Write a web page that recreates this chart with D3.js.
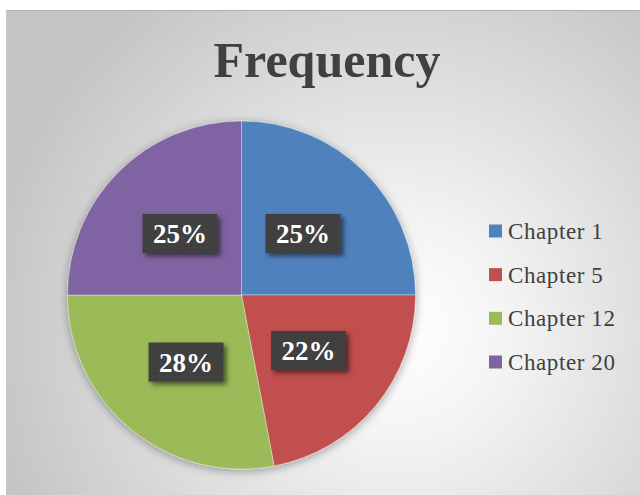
<!DOCTYPE html>
<html>
<head>
<meta charset="utf-8">
<script src="https://cdn.jsdelivr.net/npm/d3@7"></script>
<style>
  html, body { margin: 0; padding: 0; background: #ffffff; }
  svg { display: block; }
</style>
</head>
<body>
<svg id="chart" width="640" height="495"></svg>
<script>
const categories = ["Chapter 1", "Chapter 5", "Chapter 12", "Chapter 20"];
const values = [25, 22, 28, 25];
const colors = ["#4F81BD", "#C0504D", "#9BBB59", "#8064A2"];
const title = "Frequency";

const svg = d3.select("#chart");
const defs = svg.append("defs");

const bg = defs.append("radialGradient").attr("id", "bg")
  .attr("gradientUnits", "userSpaceOnUse")
  .attr("cx", 400).attr("cy", 330).attr("r", 420);
bg.append("stop").attr("offset", "0").attr("stop-color", "#ffffff");
bg.append("stop").attr("offset", "0.25").attr("stop-color", "#f4f4f4");
bg.append("stop").attr("offset", "1").attr("stop-color", "#c4c4c4");

const pieShadow = defs.append("filter").attr("id", "pieShadow")
  .attr("x", "-20%").attr("y", "-20%").attr("width", "140%").attr("height", "140%");
pieShadow.append("feDropShadow").attr("dx", 0).attr("dy", 2).attr("stdDeviation", 5)
  .attr("flood-color", "#000").attr("flood-opacity", 0.35);

const boxShadow = defs.append("filter").attr("id", "boxShadow")
  .attr("x", "-30%").attr("y", "-30%").attr("width", "170%").attr("height", "180%");
boxShadow.append("feDropShadow").attr("dx", 3).attr("dy", 3).attr("stdDeviation", 2.5)
  .attr("flood-color", "#000").attr("flood-opacity", 0.55);

const pat = defs.append("pattern").attr("id", "dots")
  .attr("patternUnits", "userSpaceOnUse").attr("width", 6).attr("height", 6);
pat.append("rect").attr("width", 6).attr("height", 6).attr("fill", "#404040");
pat.append("rect").attr("x", 2).attr("y", 2).attr("width", 1).attr("height", 1).attr("fill", "#4d4d4d");

// chart area
svg.append("rect").attr("x", 6).attr("y", 10).attr("width", 640).attr("height", 490)
  .attr("fill", "url(#bg)");
svg.append("line").attr("x1", 6).attr("x2", 640).attr("y1", 10.5).attr("y2", 10.5)
  .attr("stroke", "#aeaeae").attr("stroke-width", 1);
svg.append("line").attr("x1", 6.5).attr("x2", 6.5).attr("y1", 10).attr("y2", 495)
  .attr("stroke", "#c8c8c8").attr("stroke-width", 1);

svg.append("text").attr("x", 327).attr("y", 77).attr("text-anchor", "middle")
  .attr("font-family", "'Liberation Serif', serif").attr("font-weight", "bold")
  .attr("font-size", 50).attr("fill", "#404040").text(title);

const cx = 241.5, cy = 295, R = 174;
const data = categories.map((c, i) => ({ name: c, value: values[i], color: colors[i] }));
const pie = d3.pie().value(d => d.value).sort(null);
const arcs = pie(data);
const arc = d3.arc().innerRadius(0).outerRadius(R);
const labelArc = d3.arc().innerRadius(R * 0.5).outerRadius(R * 0.5);
const total = d3.sum(values);

const g = svg.append("g").attr("transform", `translate(${cx},${cy})`);
g.append("g").attr("filter", "url(#pieShadow)")
  .selectAll("path").data(arcs).join("path")
  .attr("d", arc).attr("fill", d => d.data.color)
  .attr("stroke", "rgba(255,255,255,0.35)").attr("stroke-width", 1);

const bw = 75, bh = 39;
const lab = g.selectAll("g.lab").data(arcs).join("g").attr("class", "lab")
  .attr("transform", d => { const [x, y] = labelArc.centroid(d); return `translate(${x},${y})`; });
lab.append("rect").attr("x", -bw / 2).attr("y", -bh / 2).attr("width", bw).attr("height", bh)
  .attr("fill", "url(#dots)").attr("filter", "url(#boxShadow)");
lab.append("text").attr("text-anchor", "middle").attr("y", 9.5)
  .attr("font-family", "'Liberation Serif', serif").attr("font-weight", "bold")
  .attr("font-size", 27).attr("fill", "#ffffff")
  .text(d => Math.round(d.data.value / total * 100) + "%");

const legend = svg.append("g");
const ly = d3.scalePoint().domain(categories).range([231, 362]);
const li = legend.selectAll("g").data(data).join("g")
  .attr("transform", d => `translate(489,${ly(d.name)})`);
li.append("rect").attr("x", 0).attr("y", -6.5).attr("width", 13).attr("height", 13)
  .attr("fill", d => d.color);
li.append("text").attr("x", 19).attr("y", 8)
  .attr("font-family", "'Liberation Serif', serif").attr("font-size", 23)
  .attr("letter-spacing", 0.6).attr("fill", "#404040").text(d => d.name);
</script>
</body>
</html>
